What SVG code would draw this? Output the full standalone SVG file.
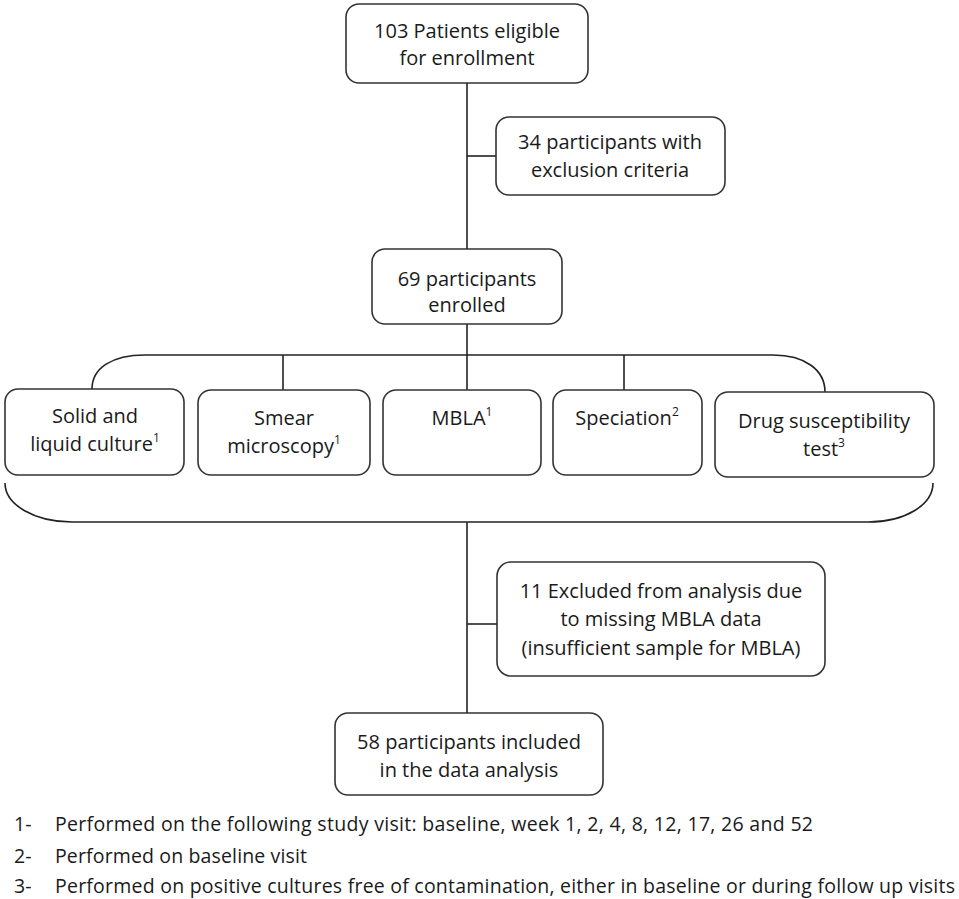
<svg xmlns="http://www.w3.org/2000/svg" width="959" height="899" viewBox="0 0 959 899">
<style>
.box{fill:#fff;stroke:#333;stroke-width:1.6}
.t{font-family:"Open Sans","Liberation Sans",sans-serif;font-size:20px;fill:#1a1a1a;text-anchor:middle}
.sup{font-size:12px}
.fn{font-family:"Open Sans","Liberation Sans",sans-serif;font-size:19.5px;fill:#1a1a1a}
.c{fill:none;stroke:#222;stroke-width:1.6}
</style>
<rect width="959" height="899" fill="#fff"/>
<g id="connectors">
<line class="c" x1="467" y1="83" x2="467" y2="249"/>
<line class="c" x1="467" y1="156" x2="496" y2="156"/>
<line class="c" x1="467" y1="324" x2="467" y2="390"/>
<path class="c" d="M92 389 C92 368 112 355 145 355 L773 355 C805 355 825 370 825 392"/>
<line class="c" x1="283" y1="355" x2="283" y2="390"/>
<line class="c" x1="624" y1="355" x2="624" y2="390"/>
<path class="c" d="M5 483 C5 505 35 522 72 522 L868 522 C905 522 933 505 933 483"/>
<line class="c" x1="467" y1="522" x2="467" y2="713"/>
<line class="c" x1="467" y1="624" x2="497" y2="624"/>
</g>
<g id="n1">
<rect class="box" x="346" y="4" width="242" height="79" rx="13"/>
<text class="t" x="467" y="38">103 Patients eligible</text>
<text class="t" x="467" y="65">for enrollment</text>
</g>
<g id="n2">
<rect class="box" x="496" y="117" width="229" height="78" rx="13"/>
<text class="t" x="610" y="149">34 participants with</text>
<text class="t" x="610" y="177">exclusion criteria</text>
</g>
<g id="n3">
<rect class="box" x="372" y="249" width="190" height="75" rx="13"/>
<text class="t" x="467" y="286">69 participants</text>
<text class="t" x="467" y="312">enrolled</text>
</g>
<g id="nA">
<rect class="box" x="5" y="389" width="179" height="86" rx="13"/>
<text class="t" x="95" y="423">Solid and</text>
<text class="t" x="95" y="451">liquid culture<tspan class="sup" dy="-9">1</tspan></text>
</g>
<g id="nB">
<rect class="box" x="198" y="390" width="172" height="85" rx="13"/>
<text class="t" x="284" y="425">Smear</text>
<text class="t" x="284" y="453">microscopy<tspan class="sup" dy="-9">1</tspan></text>
</g>
<g id="nC">
<rect class="box" x="383" y="390" width="158" height="85" rx="13"/>
<text class="t" x="462" y="425">MBLA<tspan class="sup" dy="-9">1</tspan></text>
</g>
<g id="nD">
<rect class="box" x="553" y="390" width="149" height="85" rx="13"/>
<text class="t" x="627" y="425">Speciation<tspan class="sup" dy="-9">2</tspan></text>
</g>
<g id="nE">
<rect class="box" x="715" y="392" width="219" height="85" rx="13"/>
<text class="t" x="824" y="428">Drug susceptibility</text>
<text class="t" x="824" y="456">test<tspan class="sup" dy="-9">3</tspan></text>
</g>
<g id="n11">
<rect class="box" x="497" y="562" width="328" height="114" rx="14"/>
<text class="t" x="661" y="598">11 Excluded from analysis due</text>
<text class="t" x="661" y="626">to missing MBLA data</text>
<text class="t" x="661" y="655">(insufficient sample for MBLA)</text>
</g>
<g id="n58">
<rect class="box" x="335" y="713" width="268" height="82" rx="13"/>
<text class="t" x="469" y="749">58 participants included</text>
<text class="t" x="469" y="777">in the data analysis</text>
</g>
<g id="footnotes">
<text class="fn" x="14" y="831">1-</text>
<text class="fn" x="55" y="831" textLength="758" lengthAdjust="spacing">Performed on the following study visit: baseline, week 1, 2, 4, 8, 12, 17, 26 and 52</text>
<text class="fn" x="14" y="863">2-</text>
<text class="fn" x="55" y="863" textLength="252" lengthAdjust="spacing">Performed on baseline visit</text>
<text class="fn" x="14" y="893">3-</text>
<text class="fn" x="55" y="893" textLength="900" lengthAdjust="spacing">Performed on positive cultures free of contamination, either in baseline or during follow up visits</text>
</g>
</svg>
